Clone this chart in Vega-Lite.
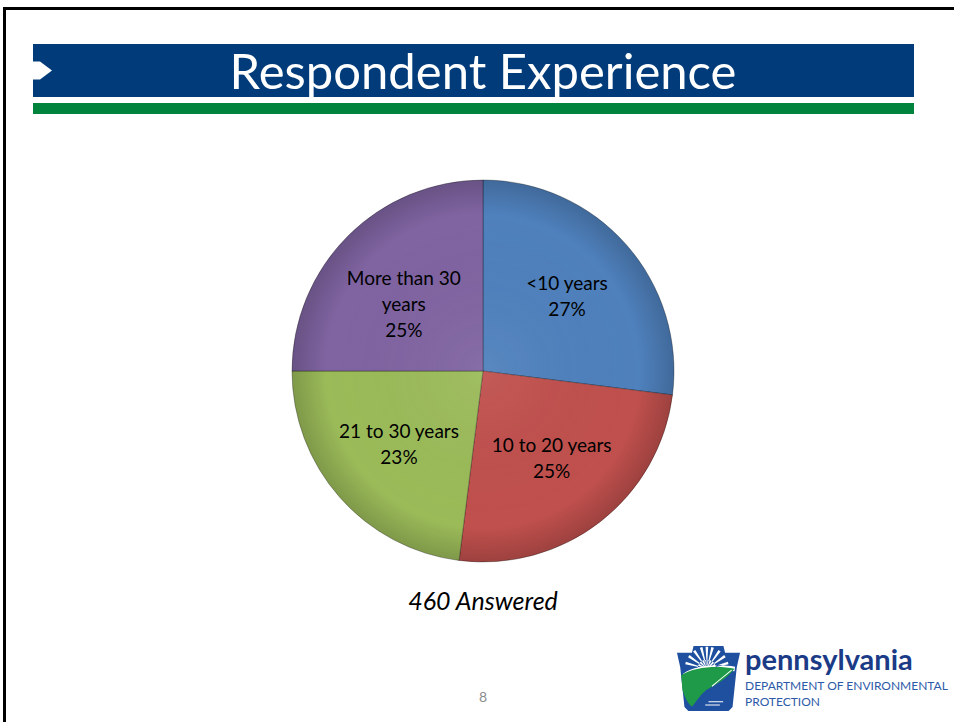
{
  "$schema": "https://vega.github.io/schema/vega-lite/v6.json",
  "background": "white",
  "padding": {"left": 3, "top": 7, "right": 0, "bottom": 0},
  "config": {"view": {"stroke": null}, "font": "Lato"},
  "spacing": 0,
  "vconcat": [
    {"width": 951, "height": 3, "view": {"fill": "black"}, "data": {"values": []}, "mark": "point"},
    {
      "spacing": 27,
      "hconcat": [
        {"width": 3, "height": 712, "view": {"fill": "black"}, "data": {"values": []}, "mark": "point"},
        {
          "spacing": 64,
          "vconcat": [
            {
              "spacing": 4,
              "vconcat": [
                {"width": 881, "height": 30, "data": {"values": []}, "mark": "point"},
                {
                  "spacing": 0,
                  "hconcat": [
                    {
                      "width": 19, "height": 53, "view": {"fill": "#013B7A"},
                      "data": {"values": [{}]},
                      "mark": {"type": "point", "shape": "M-1,-0.95L-0.26,-0.95L1,0L-0.26,0.95L-1,0.95Z", "filled": true, "color": "white", "opacity": 1, "size": 361}
                    },
                    {
                      "width": 862, "height": 53, "view": {"fill": "#013B7A"},
                      "data": {"values": [{}]},
                      "mark": {"type": "text", "text": "Respondent Experience", "color": "white", "font": "Lato", "fontSize": 49, "baseline": "middle", "dy": 3}
                    }
                  ]
                },
                {"width": 881, "height": 11, "view": {"fill": "#00843D"}, "data": {"values": []}, "mark": "point"}
              ]
            },
            {
              "spacing": 31,
              "vconcat": [
                {
                  "width": 900, "height": 382,
                  "title": {"text": "460 Answered", "orient": "bottom", "anchor": "middle", "fontSize": 25, "fontStyle": "italic", "fontWeight": "normal", "font": "Lato", "color": "black", "offset": 26},
                  "data": {"values": [
                    {"idx": 1, "category": "<10 years", "pct": 27, "label": "<10 years\n27%"},
                    {"idx": 2, "category": "10 to 20 years", "pct": 25, "label": "10 to 20 years\n25%"},
                    {"idx": 3, "category": "21 to 30 years", "pct": 23, "label": "21 to 30 years\n23%"},
                    {"idx": 4, "category": "More than 30 years", "pct": 25, "label": "More than 30\nyears\n25%"}
                  ]},
                  "layer": [
                    {
                      "mark": {"type": "arc", "outerRadius": 191, "stroke": "rgba(0,0,0,0.3)", "strokeWidth": 1},
                      "encoding": {
                        "theta": {"field": "pct", "type": "quantitative", "stack": true},
                        "order": {"field": "idx", "type": "quantitative"},
                        "color": {"field": "category", "type": "nominal", "legend": null,
                          "scale": {"domain": ["<10 years", "10 to 20 years", "21 to 30 years", "More than 30 years"], "range": ["#4F81BD", "#C0504D", "#9BBB59", "#8064A2"]}}
                      }
                    },
                    {
                      "data": {"values": [{}]},
                      "mark": {"type": "arc", "outerRadius": 191, "theta": 0, "theta2": 6.2832,
                        "fill": {"gradient": "radial", "x1": 0.5, "y1": 0.5, "r1": 0, "x2": 0.5, "y2": 0.5, "r2": 0.5,
                          "stops": [{"offset": 0, "color": "rgba(255,255,255,0.06)"}, {"offset": 0.82, "color": "rgba(0,0,0,0)"}, {"offset": 1, "color": "rgba(0,0,0,0.18)"}]}},
                      "encoding": {}
                    },
                    {
                      "mark": {"type": "text", "radius": 112, "dy": -13, "fontSize": 19, "lineBreak": "\n", "lineHeight": 26, "font": "Lato", "color": "black"},
                      "encoding": {
                        "theta": {"field": "pct", "type": "quantitative", "stack": true},
                        "order": {"field": "idx", "type": "quantitative"},
                        "text": {"field": "label", "type": "nominal"}
                      }
                    }
                  ]
                },
                {
                  "spacing": 188,
                  "hconcat": [
                    {
                      "width": 450, "height": 56,
                      "data": {"values": [{}]},
                      "mark": {"type": "text", "text": "8", "fontSize": 14, "color": "#8c8c8c", "align": "center", "baseline": "alphabetic", "font": "Lato"},
                      "encoding": {"x": {"value": "width"}, "y": {"value": "height"}}
                    },
                    {
                      "spacing": 4,
                      "hconcat": [
                        {
                          "width": 65, "height": 65,
                          "data": {"values": [{}]},
                          "layer": [
                            {"mark": {"type": "point", "filled": true, "opacity": 1, "size": 4225, "color": "#1f4f9f",
                              "shape": "M-0.97,-0.79L-0.51,-0.79L-0.46,-1L0.46,-1L0.51,-0.79L0.97,-0.79L0.87,-0.35L0.74,0.88L0.62,1L-0.62,1L-0.74,0.88L-0.87,-0.35Z"}},
                            {"mark": {"type": "point", "filled": true, "opacity": 1, "size": 4225, "color": "white",
                              "shape": "M-0.33,-0.3C-0.33,-0.67 0.23,-0.67 0.23,-0.3Z M-0.05,-0.3L-0.695,-0.516L-0.716,-0.435Z M-0.05,-0.3L-0.582,-0.724L-0.63,-0.655Z M-0.05,-0.3L-0.405,-0.88L-0.474,-0.832Z M-0.05,-0.3L-0.185,-0.966L-0.266,-0.945Z M-0.05,-0.3L-0.009,-0.979L-0.091,-0.979Z M-0.05,-0.3L0.166,-0.945L0.085,-0.966Z M-0.05,-0.3L0.374,-0.832L0.305,-0.88Z M-0.05,-0.3L0.53,-0.655L0.482,-0.724Z M-0.05,-0.3L0.616,-0.435L0.595,-0.516Z M-0.78,-0.15C-0.4,-0.42 0.35,-0.45 0.82,-0.36L0.8,-0.22C0.3,-0.3 -0.3,-0.25 -0.8,-0.05Z"}},
                            {"mark": {"type": "point", "filled": true, "opacity": 1, "size": 4225, "color": "#1f9a48",
                              "shape": "M-0.84,-0.1C-0.45,-0.36 0.3,-0.4 0.8,-0.3C0.6,-0.02 0.25,0.18 -0.08,0.36C-0.25,0.5 -0.38,0.7 -0.5,0.86C-0.62,0.8 -0.72,0.6 -0.8,0.35Z"}},
                            {"mark": {"type": "point", "filled": true, "opacity": 1, "size": 4225, "color": "white",
                              "shape": "M0,0.7L0.45,0.7L0.45,0.73L0,0.73Z M-0.1,0.8L0.35,0.8L0.35,0.83L-0.1,0.83Z M0.1,0.22C0.3,0.05 0.5,-0.1 0.7,-0.27L0.72,-0.25C0.5,-0.06 0.3,0.08 0.12,0.25Z"}}
                          ]
                        },
                        {
                          "width": 205, "height": 1,
                          "data": {"values": []},
                          "mark": "point",
                          "title": {"text": "pennsylvania", "subtitle": ["DEPARTMENT OF ENVIRONMENTAL", "PROTECTION"],
                            "orient": "bottom", "anchor": "start", "offset": 0,
                            "font": "Lato", "fontSize": 29, "fontWeight": "bold", "color": "#1b3b87",
                            "subtitleFont": "Lato", "subtitleFontSize": 12, "subtitleColor": "#2d5aa8", "subtitlePadding": 5, "subtitleLineHeight": 15.5}
                        }
                      ]
                    }
                  ]
                }
              ]
            }
          ]
        }
      ]
    }
  ]
}
